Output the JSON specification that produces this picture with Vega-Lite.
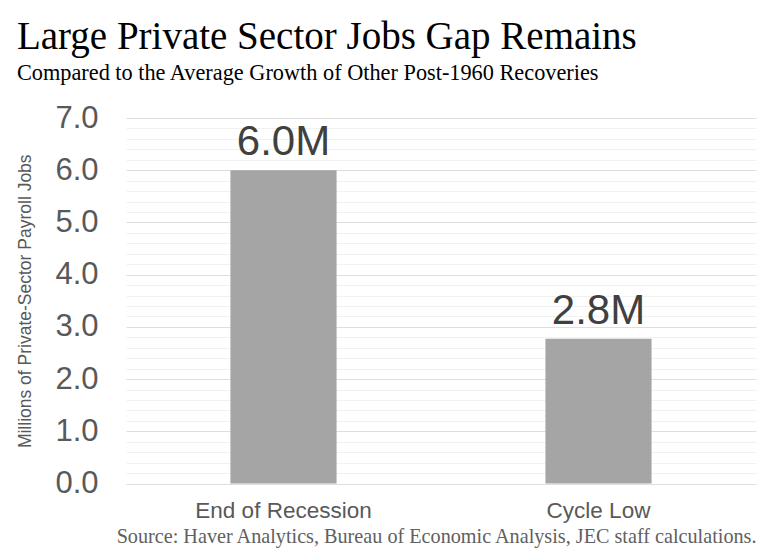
{
  "$schema": "https://vega.github.io/schema/vega-lite/v6.json",
  "width": 630,
  "height": 365.5,
  "autosize": {"type": "pad"},
  "padding": {"left": 16, "top": 17, "right": 4, "bottom": 10},
  "background": "white",
  "title": {
    "text": "Large Private Sector Jobs Gap Remains",
    "subtitle": "Compared to the Average Growth of Other Post-1960 Recoveries",
    "anchor": "start",
    "frame": "bounds",
    "font": "Liberation Serif",
    "fontSize": 39,
    "fontWeight": "normal",
    "color": "#000000",
    "subtitleFont": "Liberation Serif",
    "subtitleFontSize": 22.3,
    "subtitleColor": "#000000",
    "subtitlePadding": 5,
    "offset": 18
  },
  "data": {
    "values": [
      {"period": "End of Recession", "jobs": 6.0, "label": "6.0M"},
      {"period": "Cycle Low", "jobs": 2.77, "label": "2.8M"}
    ]
  },
  "encoding": {
    "x": {
      "field": "period",
      "type": "nominal",
      "sort": null,
      "scale": {"paddingInner": 0.663, "paddingOuter": 0.3315},
      "axis": {
        "title": "Source: Haver Analytics, Bureau of Economic Analysis, JEC staff calculations.",
        "titleFont": "Liberation Serif",
        "titleFontSize": 20.2,
        "titleFontWeight": "normal",
        "titleColor": "#606060",
        "titleAnchor": "end",
        "titlePadding": 4.5,
        "labelFont": "Liberation Sans",
        "labelFontSize": 22.5,
        "labelColor": "#595959",
        "labelPadding": 16,
        "labelAngle": 0,
        "ticks": false,
        "domain": false,
        "grid": false
      }
    },
    "y": {
      "field": "jobs",
      "type": "quantitative",
      "scale": {"domain": [0, 7], "nice": false},
      "axis": {
        "title": "Millions of Private-Sector Payroll Jobs",
        "titleFont": "Liberation Sans",
        "titleFontSize": 17.5,
        "titleFontWeight": "normal",
        "titleColor": "#595959",
        "titlePadding": 20,
        "labelFont": "Liberation Sans",
        "labelFontSize": 31,
        "labelColor": "#595959",
        "labelPadding": 28,
        "labelOverlap": false,
        "ticks": false,
        "domain": false,
        "grid": true,
        "values": [0, 0.2, 0.4, 0.6, 0.8, 1, 1.2, 1.4, 1.6, 1.8, 2, 2.2, 2.4, 2.6, 2.8, 3, 3.2, 3.4, 3.6, 3.8, 4, 4.2, 4.4, 4.6, 4.8, 5, 5.2, 5.4, 5.6, 5.8, 6, 6.2, 6.4, 6.6, 6.8, 7],
        "labelExpr": "abs(datum.value - round(datum.value)) < 0.001 ? format(datum.value, '.1f') : ''",
        "gridColor": {
          "condition": {"test": "abs(datum.value - round(datum.value)) < 0.001", "value": "#dedede"},
          "value": "#f1f1f1"
        },
        "gridWidth": 1
      }
    }
  },
  "layer": [
    {"mark": {"type": "bar", "color": "#a5a5a5"}},
    {
      "mark": {"type": "text", "font": "Liberation Sans", "fontSize": 42, "color": "#404040", "baseline": "alphabetic", "dy": -15},
      "encoding": {"text": {"field": "label"}}
    }
  ],
  "config": {"view": {"stroke": null}}
}
